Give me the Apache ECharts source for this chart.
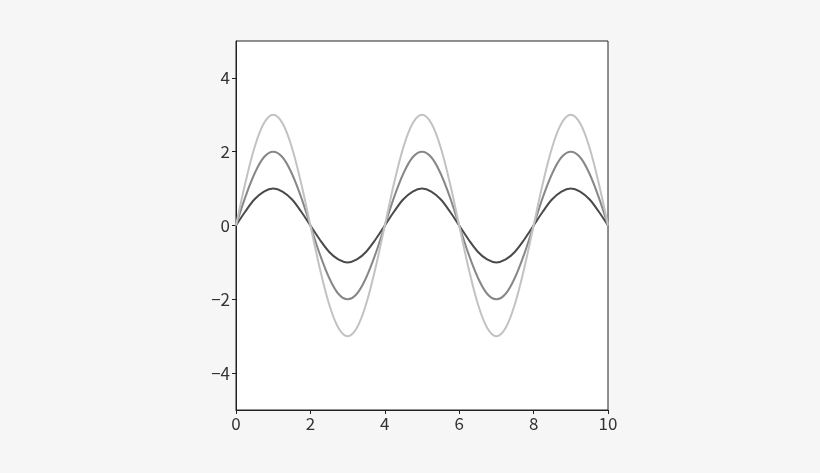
<!DOCTYPE html>
<html><head><meta charset="utf-8">
<script src="https://cdn.jsdelivr.net/npm/echarts@6/dist/echarts.min.js"></script>
<style>html,body{margin:0;padding:0;background:#f6f6f6;}#c{width:820px;height:473px;}</style>
</head><body><div id="c"></div>
<script>
var xValues = [0,0.25,0.5,0.75,1,1.25,1.5,1.75,2,2.25,2.5,2.75,3,3.25,3.5,3.75,4,4.25,4.5,4.75,5,5.25,5.5,5.75,6,6.25,6.5,6.75,7,7.25,7.5,7.75,8,8.25,8.5,8.75,9,9.25,9.5,9.75,10];
var wave1 = [0,0.38,0.71,0.92,1,0.92,0.71,0.38,0,-0.38,-0.71,-0.92,-1,-0.92,-0.71,-0.38,0,0.38,0.71,0.92,1,0.92,0.71,0.38,0,-0.38,-0.71,-0.92,-1,-0.92,-0.71,-0.38,0,0.38,0.71,0.92,1,0.92,0.71,0.38,0];
var wave2 = [0,0.77,1.41,1.85,2,1.85,1.41,0.77,0,-0.77,-1.41,-1.85,-2,-1.85,-1.41,-0.77,0,0.77,1.41,1.85,2,1.85,1.41,0.77,0,-0.77,-1.41,-1.85,-2,-1.85,-1.41,-0.77,0,0.77,1.41,1.85,2,1.85,1.41,0.77,0];
var wave3 = [0,1.15,2.12,2.77,3,2.77,2.12,1.15,0,-1.15,-2.12,-2.77,-3,-2.77,-2.12,-1.15,0,1.15,2.12,2.77,3,2.77,2.12,1.15,0,-1.15,-2.12,-2.77,-3,-2.77,-2.12,-1.15,0,1.15,2.12,2.77,3,2.77,2.12,1.15,0];
var xTicks = [0,2,4,6,8,10];
var yTicks = [-4,-2,0,2,4];

function pairs(ys){ return xValues.map(function(x,i){ return [x, ys[i]]; }); }
var font = '"Noto Sans CJK JP", "DejaVu Sans", sans-serif';
var chart = echarts.init(document.getElementById('c'));
function mk(data, color){
  return {type:'line', data:pairs(data), smooth:0.35, showSymbol:false, symbol:'none',
    lineStyle:{color:color, width:2}, itemStyle:{color:color}, animation:false};
}
chart.setOption({
  backgroundColor:'#f6f6f6',
  animation:false,
  grid:{left:236, right:212, top:41, bottom:63, show:true, backgroundColor:'#ffffff', borderColor:'#222', borderWidth:1},
  xAxis:{type:'value', min:0, max:10, interval:2,
    axisLine:{show:true, onZero:false, lineStyle:{color:'#222'}},
    axisTick:{show:true, inside:false, length:4, lineStyle:{color:'#222'}, customValues:xTicks},
    axisLabel:{color:'#333', fontSize:17, fontFamily:font, margin:5, customValues:xTicks, showMaxLabel:true, showMinLabel:true},
    splitLine:{show:false}},
  yAxis:{type:'value', min:-5, max:5,
    axisLine:{show:true, onZero:false, lineStyle:{color:'#222'}},
    axisTick:{show:true, inside:false, length:4, lineStyle:{color:'#222'}, customValues:yTicks},
    axisLabel:{color:'#333', fontSize:17, fontFamily:font, margin:6, customValues:yTicks,
      formatter:function(v){ return v<0 ? '\u2212'+Math.abs(v) : String(v); }},
    splitLine:{show:false}},
  series:[mk(wave1,'#4a4a4a'), mk(wave2,'#878787'), mk(wave3,'#c2c2c2')]
});
</script></body></html>
